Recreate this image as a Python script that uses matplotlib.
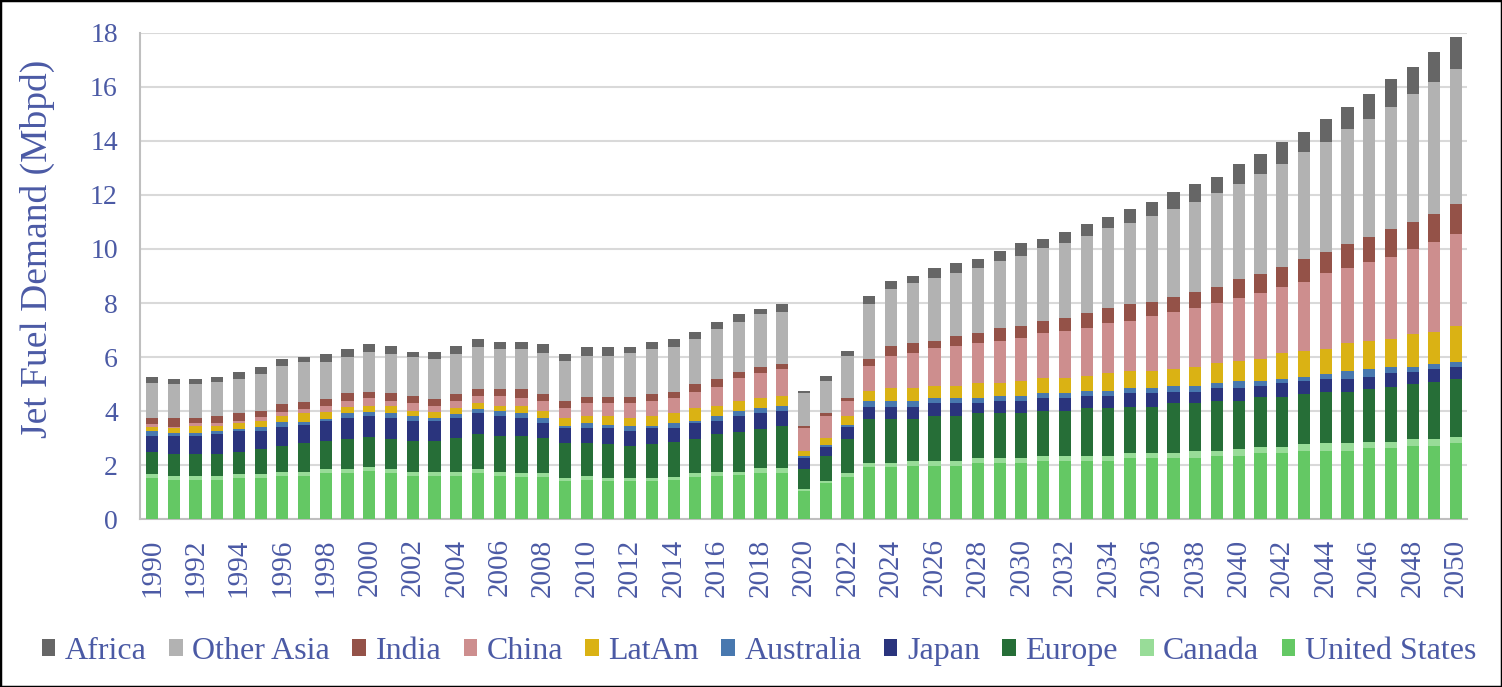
import matplotlib.pyplot as plt
from matplotlib.patches import Rectangle
import numpy as np

years = list(range(1990, 2051))

united_states = [1.52, 1.45, 1.45, 1.45, 1.52, 1.52, 1.60, 1.60, 1.70, 1.70,
                 1.79, 1.70, 1.60, 1.60, 1.60, 1.69, 1.60, 1.57, 1.54, 1.40,
                 1.44, 1.40, 1.40, 1.40, 1.44, 1.54, 1.60, 1.62, 1.72, 1.72,
                 1.04, 1.32, 1.55, 1.91, 1.91, 1.96, 1.96, 1.96, 2.06, 2.06,
                 2.06, 2.15, 2.15, 2.15, 2.15, 2.25, 2.25, 2.25, 2.25, 2.33,
                 2.33, 2.43, 2.43, 2.52, 2.52, 2.52, 2.62, 2.62, 2.70, 2.70, 2.80]
canada = [0.15, 0.15, 0.15, 0.15, 0.15, 0.15, 0.15, 0.15, 0.15, 0.15,
          0.15, 0.15, 0.15, 0.15, 0.15, 0.15, 0.15, 0.15, 0.15, 0.11,
          0.15, 0.11, 0.11, 0.11, 0.13, 0.15, 0.15, 0.13, 0.16, 0.16,
          0.07, 0.09, 0.14, 0.15, 0.15, 0.19, 0.19, 0.19, 0.19, 0.19,
          0.19, 0.18, 0.18, 0.18, 0.18, 0.18, 0.18, 0.18, 0.27, 0.19,
          0.26, 0.25, 0.25, 0.25, 0.28, 0.28, 0.24, 0.24, 0.26, 0.26, 0.25]
europe = [0.82, 0.81, 0.81, 0.81, 0.82, 0.92, 0.94, 1.05, 1.04, 1.11,
          1.11, 1.11, 1.14, 1.14, 1.24, 1.31, 1.32, 1.35, 1.30, 1.29,
          1.21, 1.27, 1.19, 1.27, 1.29, 1.26, 1.40, 1.48, 1.44, 1.56,
          0.74, 0.94, 1.27, 1.64, 1.64, 1.55, 1.66, 1.66, 1.66, 1.66,
          1.66, 1.67, 1.67, 1.77, 1.77, 1.73, 1.73, 1.85, 1.76, 1.85,
          1.78, 1.85, 1.85, 1.86, 1.92, 1.92, 1.95, 2.04, 2.03, 2.13, 2.12]
japan = [0.58, 0.66, 0.66, 0.74, 0.77, 0.67, 0.73, 0.70, 0.74, 0.77,
         0.76, 0.77, 0.74, 0.74, 0.74, 0.76, 0.74, 0.66, 0.55, 0.58,
         0.56, 0.58, 0.57, 0.58, 0.50, 0.59, 0.48, 0.58, 0.59, 0.56,
         0.40, 0.33, 0.44, 0.46, 0.46, 0.46, 0.47, 0.47, 0.37, 0.46,
         0.46, 0.47, 0.47, 0.46, 0.46, 0.49, 0.49, 0.44, 0.44, 0.47,
         0.47, 0.40, 0.49, 0.48, 0.47, 0.47, 0.46, 0.50, 0.47, 0.47, 0.47]
australia = [0.19, 0.10, 0.10, 0.12, 0.09, 0.16, 0.18, 0.10, 0.09, 0.18,
             0.17, 0.18, 0.18, 0.10, 0.16, 0.16, 0.20, 0.18, 0.19, 0.06,
             0.18, 0.12, 0.17, 0.08, 0.18, 0.09, 0.18, 0.19, 0.19, 0.19,
             0.08, 0.06, 0.08, 0.21, 0.21, 0.21, 0.19, 0.19, 0.19, 0.19,
             0.19, 0.18, 0.18, 0.18, 0.18, 0.19, 0.19, 0.21, 0.21, 0.18,
             0.27, 0.18, 0.17, 0.16, 0.18, 0.29, 0.27, 0.24, 0.18, 0.18, 0.19]
latam = [0.16, 0.19, 0.29, 0.19, 0.19, 0.21, 0.21, 0.31, 0.26, 0.25,
         0.21, 0.28, 0.19, 0.25, 0.21, 0.21, 0.18, 0.28, 0.28, 0.29,
         0.27, 0.33, 0.29, 0.37, 0.37, 0.47, 0.38, 0.37, 0.37, 0.37,
         0.19, 0.25, 0.33, 0.37, 0.47, 0.47, 0.46, 0.46, 0.55, 0.46,
         0.55, 0.56, 0.56, 0.56, 0.66, 0.64, 0.64, 0.63, 0.71, 0.75,
         0.74, 0.82, 0.95, 0.95, 0.93, 1.03, 1.05, 1.03, 1.21, 1.20, 1.32]
china = [0.10, 0.06, 0.08, 0.08, 0.09, 0.16, 0.17, 0.16, 0.21, 0.21,
         0.28, 0.18, 0.28, 0.21, 0.27, 0.29, 0.37, 0.28, 0.36, 0.37,
         0.47, 0.47, 0.55, 0.56, 0.56, 0.62, 0.71, 0.84, 0.93, 1.00,
         0.84, 0.82, 0.56, 0.93, 1.20, 1.30, 1.39, 1.48, 1.49, 1.57,
         1.58, 1.67, 1.75, 1.76, 1.85, 1.85, 2.04, 2.12, 2.16, 2.22,
         2.32, 2.43, 2.46, 2.57, 2.80, 2.77, 2.94, 3.05, 3.15, 3.33, 3.41]
india = [0.21, 0.31, 0.19, 0.27, 0.28, 0.21, 0.28, 0.28, 0.25, 0.28,
         0.25, 0.28, 0.28, 0.25, 0.26, 0.24, 0.25, 0.34, 0.26, 0.27,
         0.25, 0.25, 0.25, 0.26, 0.25, 0.27, 0.27, 0.25, 0.24, 0.18,
         0.08, 0.10, 0.10, 0.26, 0.37, 0.37, 0.27, 0.37, 0.37, 0.47,
         0.46, 0.45, 0.47, 0.56, 0.55, 0.63, 0.53, 0.55, 0.62, 0.61,
         0.72, 0.71, 0.75, 0.83, 0.80, 0.91, 0.93, 1.01, 1.01, 1.03, 1.11]
other_asia = [1.29, 1.27, 1.27, 1.28, 1.28, 1.37, 1.41, 1.48, 1.39, 1.36,
              1.48, 1.46, 1.45, 1.49, 1.48, 1.57, 1.49, 1.49, 1.51, 1.48,
              1.51, 1.51, 1.61, 1.67, 1.66, 1.66, 1.85, 1.85, 1.95, 1.94,
              1.21, 1.20, 1.57, 2.03, 2.11, 2.22, 2.32, 2.32, 2.40, 2.50,
              2.59, 2.69, 2.78, 2.86, 2.97, 2.99, 3.17, 3.24, 3.33, 3.46,
              3.52, 3.71, 3.80, 3.98, 4.08, 4.24, 4.34, 4.54, 4.73, 4.90, 4.98]
africa = [0.25, 0.19, 0.19, 0.18, 0.27, 0.27, 0.26, 0.18, 0.28, 0.29,
          0.28, 0.30, 0.19, 0.27, 0.30, 0.29, 0.27, 0.27, 0.34, 0.26,
          0.34, 0.34, 0.24, 0.27, 0.27, 0.29, 0.29, 0.28, 0.19, 0.28,
          0.09, 0.19, 0.18, 0.30, 0.29, 0.27, 0.37, 0.37, 0.36, 0.37,
          0.47, 0.35, 0.43, 0.45, 0.43, 0.53, 0.53, 0.65, 0.65, 0.62,
          0.73, 0.73, 0.83, 0.75, 0.83, 0.84, 0.94, 1.01, 1.01, 1.11, 1.21]

series = [
    ('United States', united_states, '#64c864'),
    ('Canada', canada, '#98dc98'),
    ('Europe', europe, '#266e37'),
    ('Japan', japan, '#2a347d'),
    ('Australia', australia, '#4878af'),
    ('LatAm', latam, '#dab214'),
    ('China', china, '#cd8e8e'),
    ('India', india, '#945248'),
    ('Other Asia', other_asia, '#b2b2b2'),
    ('Africa', africa, '#666666'),
]

txt = '#4b5aa5'
plt.rcParams['font.family'] = ['Liberation Serif', 'DejaVu Serif']

fig = plt.figure(figsize=(15.02, 6.87), dpi=100)
ax = fig.add_axes([0.0932, 0.2445, 0.8835, 0.7075])

x = np.arange(len(years))
bottom = np.zeros(len(years))
for name, vals, col in series:
    ax.bar(x, vals, bottom=bottom, width=0.56, color=col, label=name, zorder=3)
    bottom += np.array(vals)

ax.set_ylim(0, 18)
ax.set_xlim(-0.55, 60.5)
ax.set_yticks(range(0, 19, 2))
ax.set_xticks(x[::2])
ax.set_xticklabels([str(y) for y in years[::2]], rotation=90, fontsize=21, color=txt)
ax.tick_params(axis='y', labelsize=20, labelcolor=txt, length=0, pad=16)
ax.tick_params(axis='x', length=0, pad=14)
ax.grid(axis='y', color='#d9d9d9', linewidth=1.5, zorder=0)
for s in ['top', 'right']:
    ax.spines[s].set_visible(False)
ax.spines['left'].set_color('#bfbfbf')
ax.spines['bottom'].set_color('#bfbfbf')
ax.spines['left'].set_linewidth(1.5)
ax.spines['bottom'].set_linewidth(1.5)
ax.set_ylabel('Jet Fuel Demand (Mbpd)', fontsize=27, color=txt)
ax.yaxis.set_label_coords(-0.064, 0.556)

handles, labels = ax.get_legend_handles_labels()
leg = fig.legend(handles[::-1], labels[::-1], loc='center left', bbox_to_anchor=(0.028, 0.052),
                 ncol=10, frameon=False, fontsize=23, handlelength=0.42, handleheight=0.42,
                 handletextpad=0.3, columnspacing=0.7, borderpad=0, borderaxespad=0)
for t in leg.get_texts():
    t.set_color(txt)

fig.patches.append(Rectangle((0, 0), 1, 1, transform=fig.transFigure, fill=False,
                             edgecolor='black', linewidth=2.5))

fig.savefig('out.png', dpi=100)
